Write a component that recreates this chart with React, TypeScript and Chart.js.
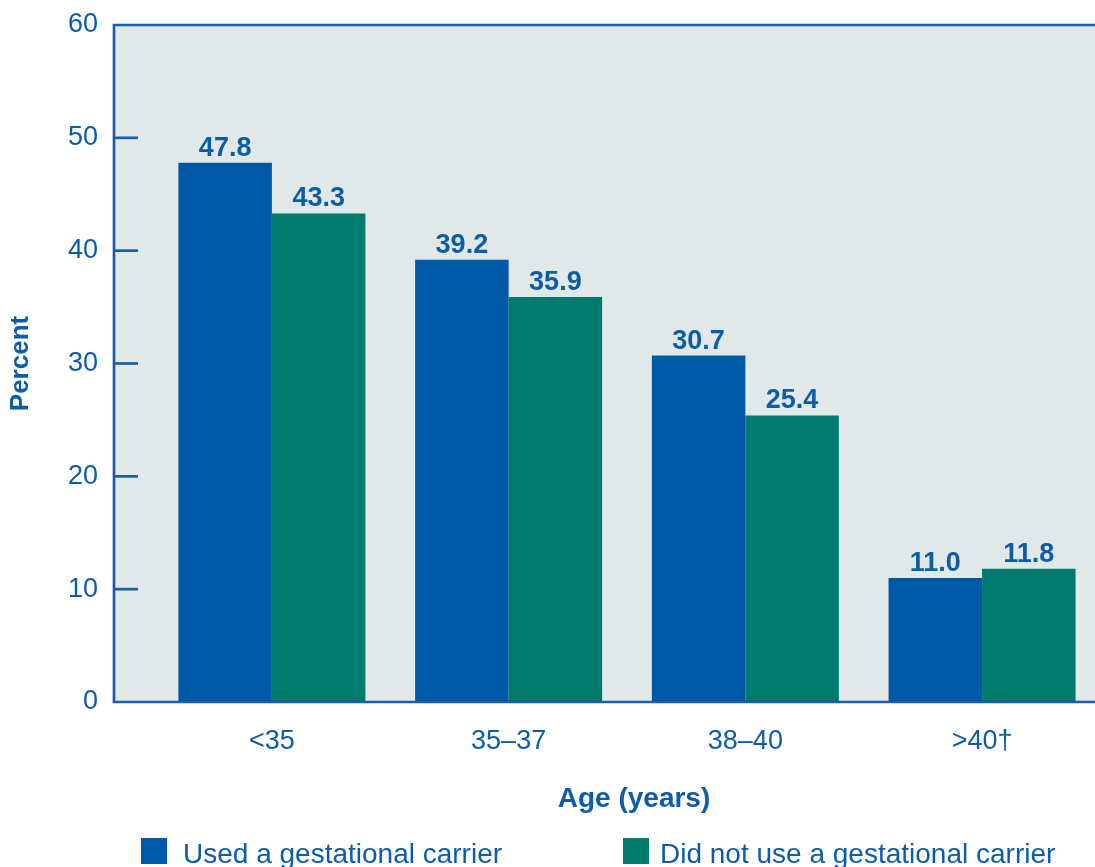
import React, { useEffect, useRef } from 'react';
import { Chart, registerables } from 'chart.js';

Chart.register(...registerables);

const categories = ['<35', '35–37', '38–40', '>40†'];
const usedCarrier = [47.8, 39.2, 30.7, 11.0];
const notUsedCarrier = [43.3, 35.9, 25.4, 11.8];
const seriesNames = ['Used a gestational carrier', 'Did not use a gestational carrier'];
const yTickValues = [0, 10, 20, 30, 40, 50, 60];

const BLUE = '#0059A7';
const GREEN = '#007A6C';
const TEXT = '#0D5CA8';
const BG = '#E1E9E8';
const AXIS = '#1A5EA8';
const FONT = '"Liberation Sans", Arial, Helvetica, sans-serif';

const decor = {
  id: 'decor',
  beforeDatasetsDraw(chart: any) {
    const { ctx, chartArea: a } = chart;
    ctx.save();
    ctx.fillStyle = BG;
    ctx.fillRect(a.left, a.top, a.right - a.left, a.bottom - a.top);
    ctx.restore();
  },
  afterDatasetsDraw(chart: any) {
    const { ctx, chartArea: a } = chart;
    const yScale = chart.scales.y;
    const xScale = chart.scales.x;
    ctx.save();
    ctx.strokeStyle = AXIS;
    ctx.lineWidth = 2.7;
    ctx.beginPath();
    ctx.moveTo(a.right, a.top);
    ctx.lineTo(a.left, a.top);
    ctx.lineTo(a.left, a.bottom);
    ctx.lineTo(a.right, a.bottom);
    ctx.stroke();
    yTickValues.forEach((v) => {
      if (v === 0 || v === 60) return;
      const y = yScale.getPixelForValue(v);
      ctx.beginPath();
      ctx.moveTo(a.left, y);
      ctx.lineTo(a.left + 24, y);
      ctx.stroke();
    });
    ctx.fillStyle = TEXT;
    ctx.font = `bold 27px ${FONT}`;
    ctx.textAlign = 'center';
    ctx.textBaseline = 'alphabetic';
    chart.data.datasets.forEach((ds: any, di: number) => {
      const meta = chart.getDatasetMeta(di);
      meta.data.forEach((bar: any, i: number) => {
        const v = ds.data[i].y;
        ctx.fillText(v.toFixed(1), bar.x, bar.y - 7);
      });
    });
    ctx.font = `bold 28px ${FONT}`;
    ctx.fillText('Age (years)', xScale.getPixelForValue(1.5) + 7, 807);
    const items = [
      { x: 141, tx: 183, color: BLUE, label: chart.data.datasets[0].label },
      { x: 623, tx: 660, color: GREEN, label: chart.data.datasets[1].label },
    ];
    ctx.font = `28px ${FONT}`;
    ctx.textAlign = 'left';
    items.forEach((it) => {
      ctx.fillStyle = it.color;
      ctx.fillRect(it.x, 838, 26, 26);
      ctx.fillStyle = TEXT;
      ctx.fillText(it.label, it.tx, 863);
    });
    ctx.restore();
  },
};

export default function App() {
  const ref = useRef<HTMLCanvasElement | null>(null);
  useEffect(() => {
    if (!ref.current) return;
    const chart = new Chart(ref.current, {
      type: 'bar',
      data: {
        datasets: [
          {
            label: seriesNames[0],
            data: usedCarrier.map((v, i) => ({ x: i, y: v })),
            backgroundColor: BLUE,
            borderWidth: 0,
            categoryPercentage: 0.79,
            barPercentage: 1.0,
          },
          {
            label: seriesNames[1],
            data: notUsedCarrier.map((v, i) => ({ x: i, y: v })),
            backgroundColor: GREEN,
            borderWidth: 0,
            categoryPercentage: 0.79,
            barPercentage: 1.0,
          },
        ],
      },
      options: {
        animation: false,
        responsive: false,
        devicePixelRatio: 1,
        layout: { padding: { top: 25, left: 0, right: 0, bottom: 0 } },
        plugins: {
          legend: { display: false },
          tooltip: { enabled: false },
          title: { display: false },
        },
        scales: {
          x: {
            type: 'linear',
            offset: false,
            min: -0.667,
            max: 3.477,
            grid: { display: false, drawTicks: false, offset: false },
            border: { display: false },
            afterBuildTicks: (scale: any) => {
              scale.ticks = categories.map((_, i) => ({ value: i }));
            },
            afterFit: (scale: any) => {
              scale.height = 165;
              scale.paddingLeft = 0;
              scale.paddingRight = 0;
            },
            ticks: {
              autoSkip: false,
              maxRotation: 0,
              padding: 23,
              color: TEXT,
              font: { family: FONT, size: 27 },
              callback: (value: any) => categories[value as number] ?? '',
            },
          },
          y: {
            min: 0,
            max: 60,
            grid: { display: false, drawTicks: false },
            border: { display: false },
            afterFit: (scale: any) => {
              scale.width = 114;
              scale.paddingTop = 0;
              scale.paddingBottom = 0;
            },
            afterBuildTicks: (scale: any) => {
              scale.ticks = yTickValues.map((v) => ({ value: v }));
            },
            ticks: {
              padding: 16,
              color: TEXT,
              font: { family: FONT, size: 27 },
            },
            title: {
              display: true,
              text: 'Percent',
              color: TEXT,
              font: { family: FONT, size: 26, weight: 'bold' },
              padding: { top: 5, bottom: 0 },
            },
          },
        },
      },
      plugins: [decor],
    } as any);
    return () => chart.destroy();
  }, []);
  return (
    <div style={{ position: 'fixed', left: 0, top: 0, width: 1095, height: 867, background: '#fff' }}>
      <canvas ref={ref} width={1095} height={867} style={{ display: 'block' }} />
    </div>
  );
}
